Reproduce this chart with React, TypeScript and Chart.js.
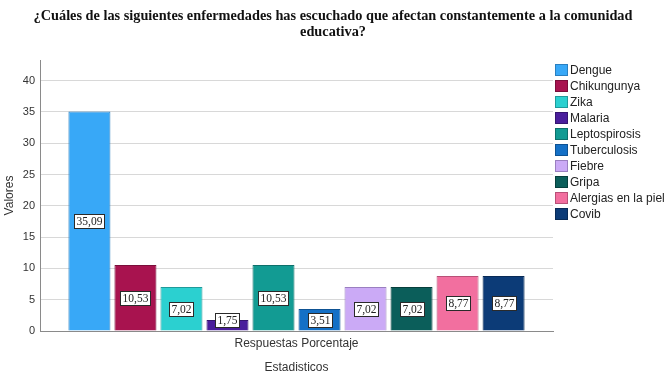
import React, { useEffect, useRef } from "react";
import { Chart, registerables } from "chart.js";

Chart.register(...registerables);

const titleLines = [
  "¿Cuáles de las siguientes enfermedades has escuchado que afectan constantemente a la comunidad",
  "educativa?",
];
const categories = ["Respuestas Porcentaje"];
const seriesNames = [
  "Dengue",
  "Chikungunya",
  "Zika",
  "Malaria",
  "Leptospirosis",
  "Tuberculosis",
  "Fiebre",
  "Gripa",
  "Alergias en la piel",
  "Covib",
];
const seriesValues = [35.09, 10.53, 7.02, 1.75, 10.53, 3.51, 7.02, 7.02, 8.77, 8.77];
const seriesColors = [
  "#38a8f7",
  "#a8134f",
  "#2bd0d0",
  "#4a1e9c",
  "#129b93",
  "#1470c6",
  "#cbaaf6",
  "#0b5e5a",
  "#f26f9f",
  "#0c3b77",
];
const borderColors = [
  "#2a7fc0",
  "#7a0e3a",
  "#1f9a9a",
  "#351570",
  "#0d706b",
  "#0e5293",
  "#9a7fc0",
  "#073f3c",
  "#b85077",
  "#082a56",
];
const yTitle = "Valores";
const xTitle = "Estadisticos";
const yMax = 43.3;

const titlePlugin = {
  id: "customTitle",
  afterDraw(chart: any) {
    const ctx = chart.ctx;
    ctx.save();
    ctx.fillStyle = "#111";
    ctx.font = 'bold 14.3px "Liberation Serif"';
    ctx.textAlign = "center";
    ctx.textBaseline = "middle";
    ctx.fillText(titleLines[0], 333, 16.5);
    ctx.fillText(titleLines[1], 333, 32);
    ctx.restore();
  },
};

const legendPlugin = {
  id: "customLegend",
  afterDraw(chart: any) {
    const ctx = chart.ctx;
    ctx.save();
    ctx.font = '12px "Liberation Sans"';
    ctx.textBaseline = "middle";
    ctx.textAlign = "left";
    seriesNames.forEach((name, i) => {
      const cy = 70 + i * 16;
      ctx.fillStyle = seriesColors[i];
      ctx.fillRect(555, cy - 6, 13, 12);
      ctx.strokeStyle = borderColors[i];
      ctx.lineWidth = 1;
      ctx.strokeRect(555.5, cy - 5.5, 12, 11);
      ctx.fillStyle = "#222";
      ctx.fillText(name, 570, cy + 0.5);
    });
    ctx.restore();
  },
};

const labelPlugin = {
  id: "valueLabels",
  afterDatasetsDraw(chart: any) {
    const ctx = chart.ctx;
    ctx.save();
    ctx.font = '11.5px "Liberation Serif"';
    ctx.textAlign = "center";
    ctx.textBaseline = "middle";
    chart.data.datasets.forEach((ds: any, i: number) => {
      const meta = chart.getDatasetMeta(i);
      const el = meta.data[0];
      if (!el) return;
      const v = ds.data[0] as number;
      const text = v.toFixed(2).replace(".", ",");
      const w = Math.round(ctx.measureText(text).width) + 4;
      const h = 14;
      let cy = (el.y + el.base) / 2;
      cy = Math.min(cy, el.base - h / 2 - 4);
      const x0 = Math.round(el.x - w / 2) + 0.5;
      const y0 = Math.round(cy - h / 2) + 0.5;
      ctx.fillStyle = "#ffffff";
      ctx.fillRect(x0, y0, w, h);
      ctx.strokeStyle = "#2a2a2a";
      ctx.lineWidth = 1;
      ctx.strokeRect(x0, y0, w, h);
      ctx.fillStyle = "#222";
      ctx.fillText(text, x0 + w / 2, y0 + h / 2 + 0.5);
    });
    ctx.restore();
  },
};

export default function App() {
  const ref = useRef<HTMLCanvasElement>(null);
  useEffect(() => {
    if (!ref.current) return;
    const chart = new Chart(ref.current, {
      type: "bar",
      data: {
        labels: categories,
        datasets: seriesNames.map((name, i) => ({
          label: name,
          data: [seriesValues[i]],
          backgroundColor: seriesColors[i],
          borderColor: borderColors[i],
          borderWidth: 1,
          categoryPercentage: 0.897,
          barPercentage: 0.913,
        })),
      },
      options: {
        animation: false,
        responsive: false,
        maintainAspectRatio: false,
        layout: { padding: { left: 0, right: 116, top: 60, bottom: 0 } },
        plugins: {
          legend: { display: false },
          title: { display: false },
          tooltip: { enabled: false },
        },
        scales: {
          x: {
            afterFit: (s: any) => {
              s.height = 47;
            },
            grid: { display: false, drawTicks: false },
            border: { display: true, color: "#8a8a8a", width: 1 },
            ticks: {
              padding: 5,
              color: "#333",
              font: { family: "Liberation Sans", size: 12 },
            },
            title: {
              display: true,
              text: xTitle,
              color: "#333",
              font: { family: "Liberation Sans", size: 12 },
              padding: { top: 0, bottom: 3 },
            },
          },
          y: {
            min: 0,
            max: yMax,
            afterFit: (s: any) => {
              s.width = 40;
            },
            afterBuildTicks: (axis: any) => {
              axis.ticks = axis.ticks.filter(
                (t: any) => Math.abs(t.value % 5) < 1e-6
              );
            },
            grid: { color: "#d8d8d8", lineWidth: 1, drawTicks: false },
            border: { display: true, color: "#8a8a8a", width: 1 },
            ticks: {
              stepSize: 5,
              padding: 5,
              color: "#333",
              font: { family: "Liberation Sans", size: 11 },
            },
            title: {
              display: true,
              text: yTitle,
              color: "#333",
              font: { family: "Liberation Sans", size: 12 },
              padding: { top: 2, bottom: 0 },
            },
          },
        },
      },
      plugins: [titlePlugin, legendPlugin, labelPlugin],
    });
    return () => chart.destroy();
  }, []);
  return (
    <div style={{ position: "fixed", left: 0, top: 0, width: 669, height: 378, background: "#fff" }}>
      <canvas ref={ref} width={669} height={378} style={{ display: "block" }} />
    </div>
  );
}
